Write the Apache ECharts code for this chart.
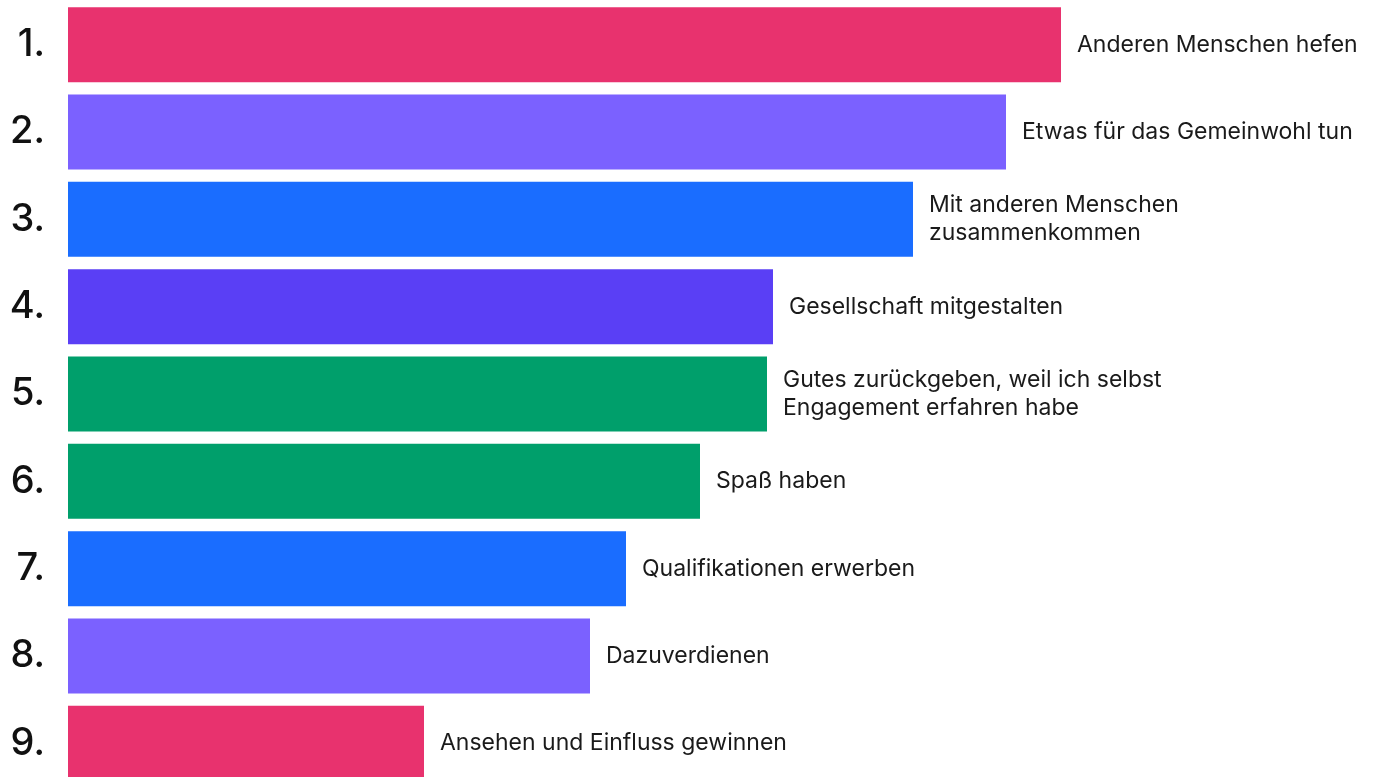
<!DOCTYPE html>
<html lang="de" style="height: 100%">
<head>
    <meta charset="utf-8">
    <title>Motive Engagement</title>
    <script src="https://cdn.jsdelivr.net/npm/echarts@6/dist/echarts.min.js"></script>
</head>
<body style="height: 100%; margin: 0; background: #fff">
    <div id="main" style="width: 1384px; height: 777px"></div>
    <script type="text/javascript">
        // Rang-Labels links
        var ranks = ['1.', '2.', '3.', '4.', '5.', '6.', '7.', '8.', '9.'];
        // Beschriftung rechts neben den Balken
        var motive = [
            'Anderen Menschen hefen',
            'Etwas für das Gemeinwohl tun',
            'Mit anderen Menschen\nzusammenkommen',
            'Gesellschaft mitgestalten',
            'Gutes zurückgeben, weil ich selbst\nEngagement erfahren habe',
            'Spaß haben',
            'Qualifikationen erwerben',
            'Dazuverdienen',
            'Ansehen und Einfluss gewinnen'
        ];
        // relative Balkenlänge (aus dem Bild geschätzt)
        var werte = [993, 938, 845, 705, 699, 632, 558, 522, 356];
        var farben = ['#E8326E', '#7B61FF', '#1A6DFF', '#5A3FF5', '#009F6B',
                      '#009F6B', '#1A6DFF', '#7B61FF', '#E8326E'];

        var myChart = echarts.init(document.getElementById('main'));

        var option = {
            animation: false,
            grid: { left: 68, top: 1, width: 1316, height: 786, outerBoundsMode: 'none' },
            xAxis: {
                type: 'value',
                min: 0,
                max: 1316,
                show: false
            },
            yAxis: {
                type: 'category',
                inverse: true,
                data: ranks,
                axisLine: { show: false },
                axisTick: { show: false },
                axisLabel: {
                    margin: 23,
                    fontSize: 38,
                    fontWeight: 500,
                    fontFamily: 'Inter',
                    color: '#111'
                }
            },
            series: [{
                type: 'bar',
                barWidth: 75,
                data: werte.map(function (v, i) {
                    return { value: v, itemStyle: { color: farben[i] } };
                }),
                label: {
                    show: true,
                    position: 'right',
                    distance: 16,
                    fontSize: 23,
                    lineHeight: 28,
                    fontFamily: 'Inter',
                    color: '#1a1a1a',
                    formatter: function (p) { return motive[p.dataIndex]; }
                }
            }]
        };

        myChart.setOption(option);
    </script>
</body>
</html>
